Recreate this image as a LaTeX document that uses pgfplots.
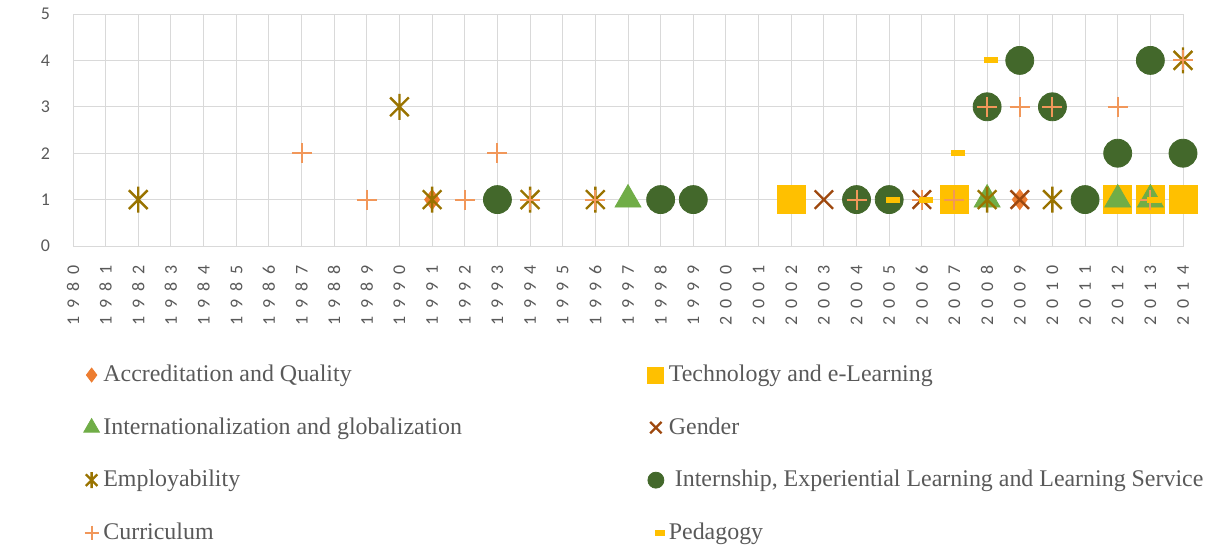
\documentclass[border=0pt]{standalone}
\usepackage{fontspec}
\setmainfont{Liberation Serif}
\newfontfamily\tickfont{Carlito}
\newfontfamily\xtickfont[LetterSpace=44]{Carlito}
\usepackage{pgfplots}
\pgfplotsset{compat=1.18}

\definecolor{accr}{HTML}{ED7D31}
\definecolor{tech}{HTML}{FFC000}
\definecolor{intl}{HTML}{70AD47}
\definecolor{gend}{HTML}{9E480E}
\definecolor{empl}{HTML}{997300}
\definecolor{intern}{HTML}{43682B}
\definecolor{curr}{HTML}{F1975A}
\definecolor{peda}{HTML}{FFC000}
\definecolor{txt}{HTML}{595959}
\definecolor{gridc}{HTML}{D9D9D9}

% x with a vertical bar, as Excel draws its star marker
\pgfdeclareplotmark{xstar}{%
  \pgfpathmoveto{\pgfqpoint{0pt}{\pgfplotmarksize}}%
  \pgfpathlineto{\pgfqpoint{0pt}{-\pgfplotmarksize}}%
  \pgfpathmoveto{\pgfqpoint{-.72\pgfplotmarksize}{-.72\pgfplotmarksize}}%
  \pgfpathlineto{\pgfqpoint{.72\pgfplotmarksize}{.72\pgfplotmarksize}}%
  \pgfpathmoveto{\pgfqpoint{-.72\pgfplotmarksize}{.72\pgfplotmarksize}}%
  \pgfpathlineto{\pgfqpoint{.72\pgfplotmarksize}{-.72\pgfplotmarksize}}%
  \pgfusepathqstroke}

\pgfplotsset{
  dot/.style={only marks,
    legend image code/.code={\draw[mark repeat=2,mark phase=2,##1]
      plot coordinates {(0bp,0bp)(4bp,0bp)(8bp,0bp)};}},
}

\begin{document}
\begin{tikzpicture}
\useasboundingbox (0,0) rectangle (608.5bp,277.5bp);
\begin{axis}[
  at={(36.5bp,154.5bp)}, anchor=south west,
  scale only axis, width=555bp, height=116bp,
  xmin=1980, xmax=2014, ymin=0, ymax=5,
  xtick={1980,1981,...,2014}, ytick={0,1,...,5},
  grid=major, major grid style={draw=gridc, line width=0.5bp},
  axis line style={draw=gridc, line width=0.5bp},
  major tick length=0pt,
  /pgf/number format/assume math mode=true,
  /pgf/number format/1000 sep={},
  yticklabel style={font=\tickfont\fontsize{9}{10}\selectfont, text=txt, xshift=-8bp},
  xticklabel style={font=\xtickfont\fontsize{9}{10}\selectfont, text=txt, rotate=90, anchor=east, xshift=-6bp},
  clip=false,
  legend columns=2,
  legend cell align=left,
  legend style={at={(0.004,-0.478)}, anchor=north west, draw=none, fill=none,
    font=\fontsize{12}{12.5}\selectfont, text=txt, row sep=12.5bp,
    /tikz/column 2/.style={column sep=91bp}},
]
% Accreditation and Quality
\addplot[dot, mark=diamond*, mark size=5bp, color=accr,
  legend image post style={mark size=3.5bp}] coordinates {
  (1991,1) (2009,1)};
\addlegendentry{Accreditation and Quality}
% Technology and e-Learning
\addplot[dot, mark=square*, mark size=7bp, color=tech,
  legend image post style={mark size=4bp}] coordinates {
  (2002,1) (2007,1) (2012,1) (2013,1) (2014,1)};
\addlegendentry{Technology and e-Learning}
% Internationalization and globalization
\addplot[dot, mark=triangle*, mark size=7.5bp, color=intl,
  legend image post style={mark size=4.5bp}] coordinates {
  (1997,1) (2008,1) (2012,1) (2013,1)};
\addlegendentry{Internationalization and globalization}
% Gender
\addplot[dot, mark=x, mark size=6.5bp, line width=1.2bp, color=gend,
  legend image post style={mark size=4bp}] coordinates {
  (2003,1) (2006,1) (2009,1)};
\addlegendentry{Gender}
% Employability
\addplot[dot, mark=xstar, mark size=6.5bp, line width=1.2bp, color=empl,
  legend image post style={mark size=4bp}] coordinates {
  (1982,1) (1990,3) (1991,1) (1994,1) (1996,1) (2008,1) (2010,1)
  (2011,1) (2012,2) (2014,4)};
\addlegendentry{Employability}
% Internship, Experiential Learning and Learning Service
\addplot[dot, mark=*, mark size=7bp, color=intern,
  legend image post style={mark size=4bp}] coordinates {
  (1993,1) (1998,1) (1999,1) (2004,1) (2005,1) (2008,3) (2009,4)
  (2010,3) (2011,1) (2012,2) (2013,4) (2014,2)};
\addlegendentry{\ Internship, Experiential Learning and Learning Service}
% Curriculum
\addplot[dot, mark=+, mark size=5bp, line width=1bp, color=curr,
  legend image post style={mark size=3.5bp}] coordinates {
  (1987,2) (1989,1) (1992,1) (1993,2) (1994,1) (1996,1) (2004,1)
  (2006,1) (2007,1) (2008,3) (2009,3) (2010,3) (2012,3) (2013,1) (2014,4)};
\addlegendentry{Curriculum}
% Pedagogy
\addplot[dot, mark=-, mark size=3.5bp, line width=3bp, color=peda,
  mark options={xshift=2bp},
  legend image post style={mark size=2.5bp}] coordinates {
  (2005,1) (2006,1) (2007,2) (2008,4) (2013,1)};
\addlegendentry{Pedagogy}
\end{axis}
\end{tikzpicture}
\end{document}
